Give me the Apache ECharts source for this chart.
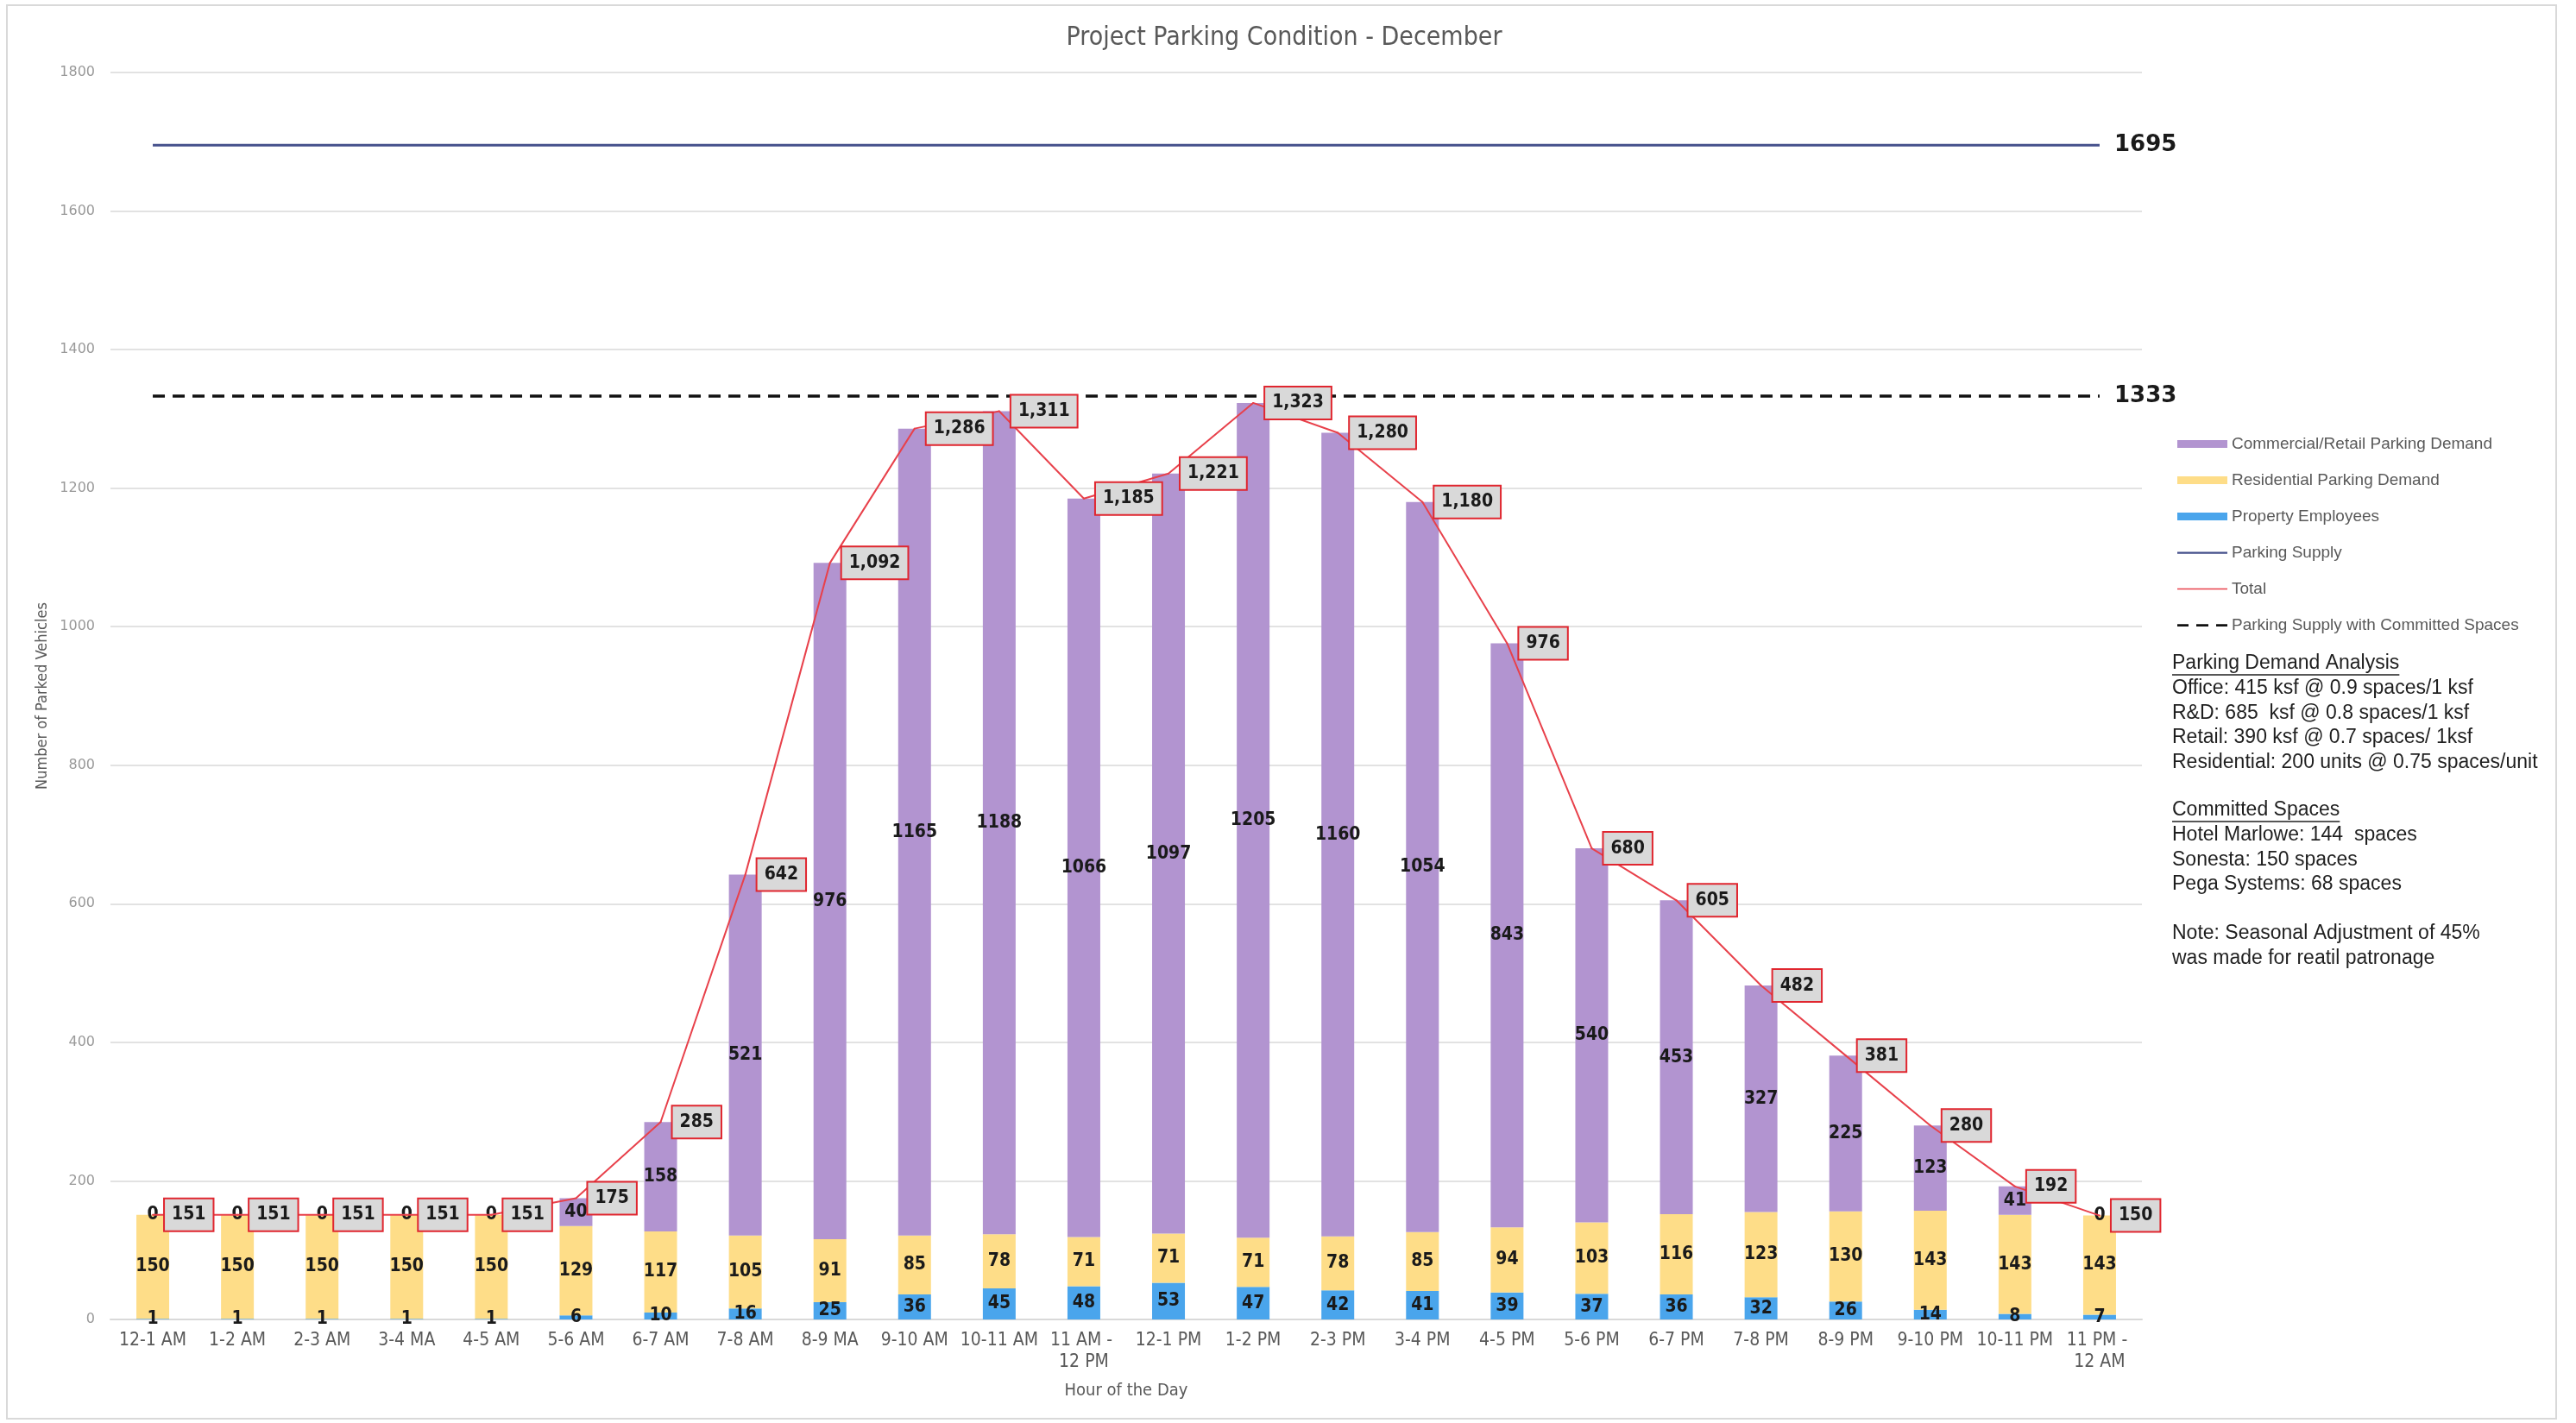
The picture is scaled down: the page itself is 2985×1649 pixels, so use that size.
<!DOCTYPE html>
<html>
<head>
<meta charset="utf-8">
<script src="https://cdn.jsdelivr.net/npm/echarts@6/dist/echarts.min.js"></script>
<style>
  html, body { margin: 0; padding: 0; background: #ffffff; }
  #chart { width: 2985px; height: 1649px; }
</style>
</head>
<body>
<div id="chart"></div>
<script>
// Hourly parking demand, December
const categories = ['12-1 AM', '1-2 AM', '2-3 AM', '3-4 MA', '4-5 AM', '5-6 AM', '6-7 AM', '7-8 AM',
  '8-9 MA', '9-10 AM', '10-11 AM', '11 AM - 12 PM', '12-1 PM', '1-2 PM', '2-3 PM', '3-4 PM',
  '4-5 PM', '5-6 PM', '6-7 PM', '7-8 PM', '8-9 PM', '9-10 PM', '10-11 PM', '11 PM - 12 AM'];
const employees = [1, 1, 1, 1, 1, 6, 10, 16, 25, 36, 45, 48, 53, 47, 42, 41, 39, 37, 36, 32, 26, 14, 8, 7];
const residential = [150, 150, 150, 150, 150, 129, 117, 105, 91, 85, 78, 71, 71, 71, 78, 85, 94, 103, 116, 123, 130, 143, 143, 143];
const commercial = [0, 0, 0, 0, 0, 40, 158, 521, 976, 1165, 1188, 1066, 1097, 1205, 1160, 1054, 843, 540, 453, 327, 225, 123, 41, 0];
const totals = [151, 151, 151, 151, 151, 175, 285, 642, 1092, 1286, 1311, 1185, 1221, 1323, 1280, 1180, 976, 680, 605, 482, 381, 280, 192, 150];
const supply = 1695;
const committedSupply = 1333;

const analysisTitle = 'Parking Demand Analysis';
const analysisLines = ['Office: 415 ksf @ 0.9 spaces/1 ksf', 'R&D: 685  ksf @ 0.8 spaces/1 ksf',
  'Retail: 390 ksf @ 0.7 spaces/ 1ksf', 'Residential: 200 units @ 0.75 spaces/unit'];
const committedTitle = 'Committed Spaces';
const committedLines = ['Hotel Marlowe: 144  spaces', 'Sonesta: 150 spaces', 'Pega Systems: 68 spaces'];
const noteLines = ['Note: Seasonal Adjustment of 45%', 'was made for reatil patronage'];

const NARROW = "'Liberation Sans Narrow', 'DejaVu Sans Condensed', 'Arial Narrow', sans-serif";
const NOTE_FONT = "'Liberation Sans', sans-serif";
const NOTE_SIZE = 23;

const COLORS = {
  employees: '#4aa5ec', residential: '#fedd88', commercial: '#b294d0',
  supply: '#45508c', total: '#e8414b', committed: '#111111'
};

// legend glyphs for the line series (58 x 9 box, stroke drawn across the middle)
const BOX = 'M0,0h0.05v0.05h-0.05z M0,8.95h0.05v0.05h-0.05z ';
const ICON_SOLID = 'path://' + BOX + 'M0,3.5h58v2.2h-58z';
const ICON_THIN = 'path://' + BOX + 'M0,3.8h58v1.5h-58z';
const ICON_DASH = 'path://' + BOX + 'M0,3.2h13v2.8h-13z M22,3.2h14v2.8h-14z M45,3.2h13v2.8h-13z';

const chart = echarts.init(document.getElementById('chart'));

const barLabel = {
  show: true, position: 'inside', color: '#1a1a1a',
  fontFamily: NARROW, fontWeight: 'bold', fontSize: 21
};

function textWidth(str, font) {
  const ctx = document.createElement('canvas').getContext('2d');
  ctx.font = font;
  return ctx.measureText(str).width;
}

// right-hand notes block
const notesX = 2517;
const graphics = [
  { type: 'rect', shape: { x: 8, y: 6, width: 2954, height: 1638 }, style: { fill: 'none', stroke: '#d9d9d9', lineWidth: 2 }, silent: true }
];
function addText(str, y) {
  graphics.push({ type: 'text', x: notesX, y: y, style: { text: str, fill: '#1f1f1f', font: NOTE_SIZE + 'px ' + NOTE_FONT, textVerticalAlign: 'middle' } });
}
function addHeader(str, y) {
  addText(str, y);
  const w = textWidth(str, NOTE_SIZE + 'px ' + NOTE_FONT);
  graphics.push({ type: 'line', shape: { x1: notesX, y1: y + 13, x2: notesX + w, y2: y + 13 }, style: { stroke: '#1f1f1f', lineWidth: 1.5 } });
}
addHeader(analysisTitle, 769);
analysisLines.forEach((s, i) => addText(s, 798 + i * 28.5));
addHeader(committedTitle, 939);
committedLines.forEach((s, i) => addText(s, 968 + i * 28.5));
noteLines.forEach((s, i) => addText(s, 1082 + i * 28.5));

const option = {
  backgroundColor: '#ffffff',
  animation: false,
  title: {
    text: 'Project Parking Condition - December',
    left: 1483, top: 24, textAlign: 'center',
    textStyle: { color: '#595959', fontSize: 30, fontWeight: 'normal', fontFamily: NARROW }
  },
  legend: {
    orient: 'vertical', left: 2518, top: 500,
    itemWidth: 58, itemHeight: 9, itemGap: 23,
    textStyle: { color: '#595959', fontSize: 19, fontFamily: "'Liberation Sans', sans-serif" },
    data: [
      { name: 'Commercial/Retail Parking Demand', icon: 'rect' },
      { name: 'Residential Parking Demand', icon: 'rect' },
      { name: 'Property Employees', icon: 'rect' },
      { name: 'Parking Supply', icon: ICON_SOLID, itemStyle: { color: COLORS.supply } },
      { name: 'Total', icon: ICON_THIN, itemStyle: { color: COLORS.total } },
      { name: 'Parking Supply with Committed Spaces', icon: ICON_DASH, itemStyle: { color: COLORS.committed } }
    ]
  },
  grid: { left: 128, right: 503, top: 84, bottom: 120 },
  xAxis: {
    type: 'category', data: categories,
    axisTick: { show: false },
    axisLine: { lineStyle: { color: '#d9d9d9', width: 2 } },
    axisLabel: {
      interval: 0, color: '#595959', fontSize: 21, fontFamily: NARROW, margin: 12,
      width: 96, overflow: 'break', lineHeight: 25
    },
    name: 'Hour of the Day', nameLocation: 'middle', nameGap: 73,
    nameTextStyle: { color: '#595959', fontSize: 20, fontFamily: NARROW }
  },
  yAxis: {
    type: 'value', min: 0, max: 1800, interval: 200,
    axisLine: { show: false }, axisTick: { show: false },
    splitLine: { lineStyle: { color: '#d9d9d9', width: 1.5 } },
    axisLabel: {
      color: '#999999', fontSize: 16, fontFamily: "'DejaVu Sans', sans-serif", margin: 18,
      formatter: v => String(v)
    },
    name: 'Number of Parked Vehicles', nameLocation: 'middle', nameGap: 66, nameRotate: 90,
    nameTextStyle: { color: '#595959', fontSize: 18, fontFamily: NARROW }
  },
  series: [
    {
      name: 'Property Employees', type: 'bar', stack: 'demand', barWidth: 38,
      itemStyle: { color: COLORS.employees }, label: barLabel, data: employees
    },
    {
      name: 'Residential Parking Demand', type: 'bar', stack: 'demand', barWidth: 38,
      itemStyle: { color: COLORS.residential }, label: barLabel, data: residential
    },
    {
      name: 'Commercial/Retail Parking Demand', type: 'bar', stack: 'demand', barWidth: 38,
      itemStyle: { color: COLORS.commercial }, label: barLabel, data: commercial
    },
    {
      name: 'Parking Supply', type: 'line', symbol: 'none', z: 4,
      lineStyle: { color: COLORS.supply, width: 3 }, itemStyle: { color: COLORS.supply },
      data: categories.map(() => supply),
      endLabel: { show: true, distance: 17, color: '#1a1a1a', fontSize: 26, fontWeight: 'bold', fontFamily: "'DejaVu Sans', sans-serif", formatter: '{c}' }
    },
    {
      name: 'Total', type: 'line', symbol: 'circle', symbolSize: 2, showSymbol: true, showAllSymbol: true, z: 5,
      lineStyle: { color: COLORS.total, width: 2 }, itemStyle: { color: COLORS.total },
      data: totals,
      label: {
        show: true, position: 'right', distance: 13,
        color: '#1a1a1a', fontSize: 21, fontWeight: 'bold', fontFamily: NARROW,
        backgroundColor: '#d9d9d9', borderColor: '#e0262f', borderWidth: 2,
        padding: [8, 8, 7, 8],
        formatter: p => p.value.toLocaleString('en-US')
      }
    },
    {
      name: 'Parking Supply with Committed Spaces', type: 'line', symbol: 'none', z: 4,
      lineStyle: { color: COLORS.committed, width: 3.5, type: [14, 9] }, itemStyle: { color: COLORS.committed },
      data: categories.map(() => committedSupply),
      endLabel: { show: true, distance: 17, color: '#1a1a1a', fontSize: 26, fontWeight: 'bold', fontFamily: "'DejaVu Sans', sans-serif", formatter: '{c}' }
    }
  ],
  graphic: graphics
};

chart.setOption(option);
</script>
</body>
</html>
